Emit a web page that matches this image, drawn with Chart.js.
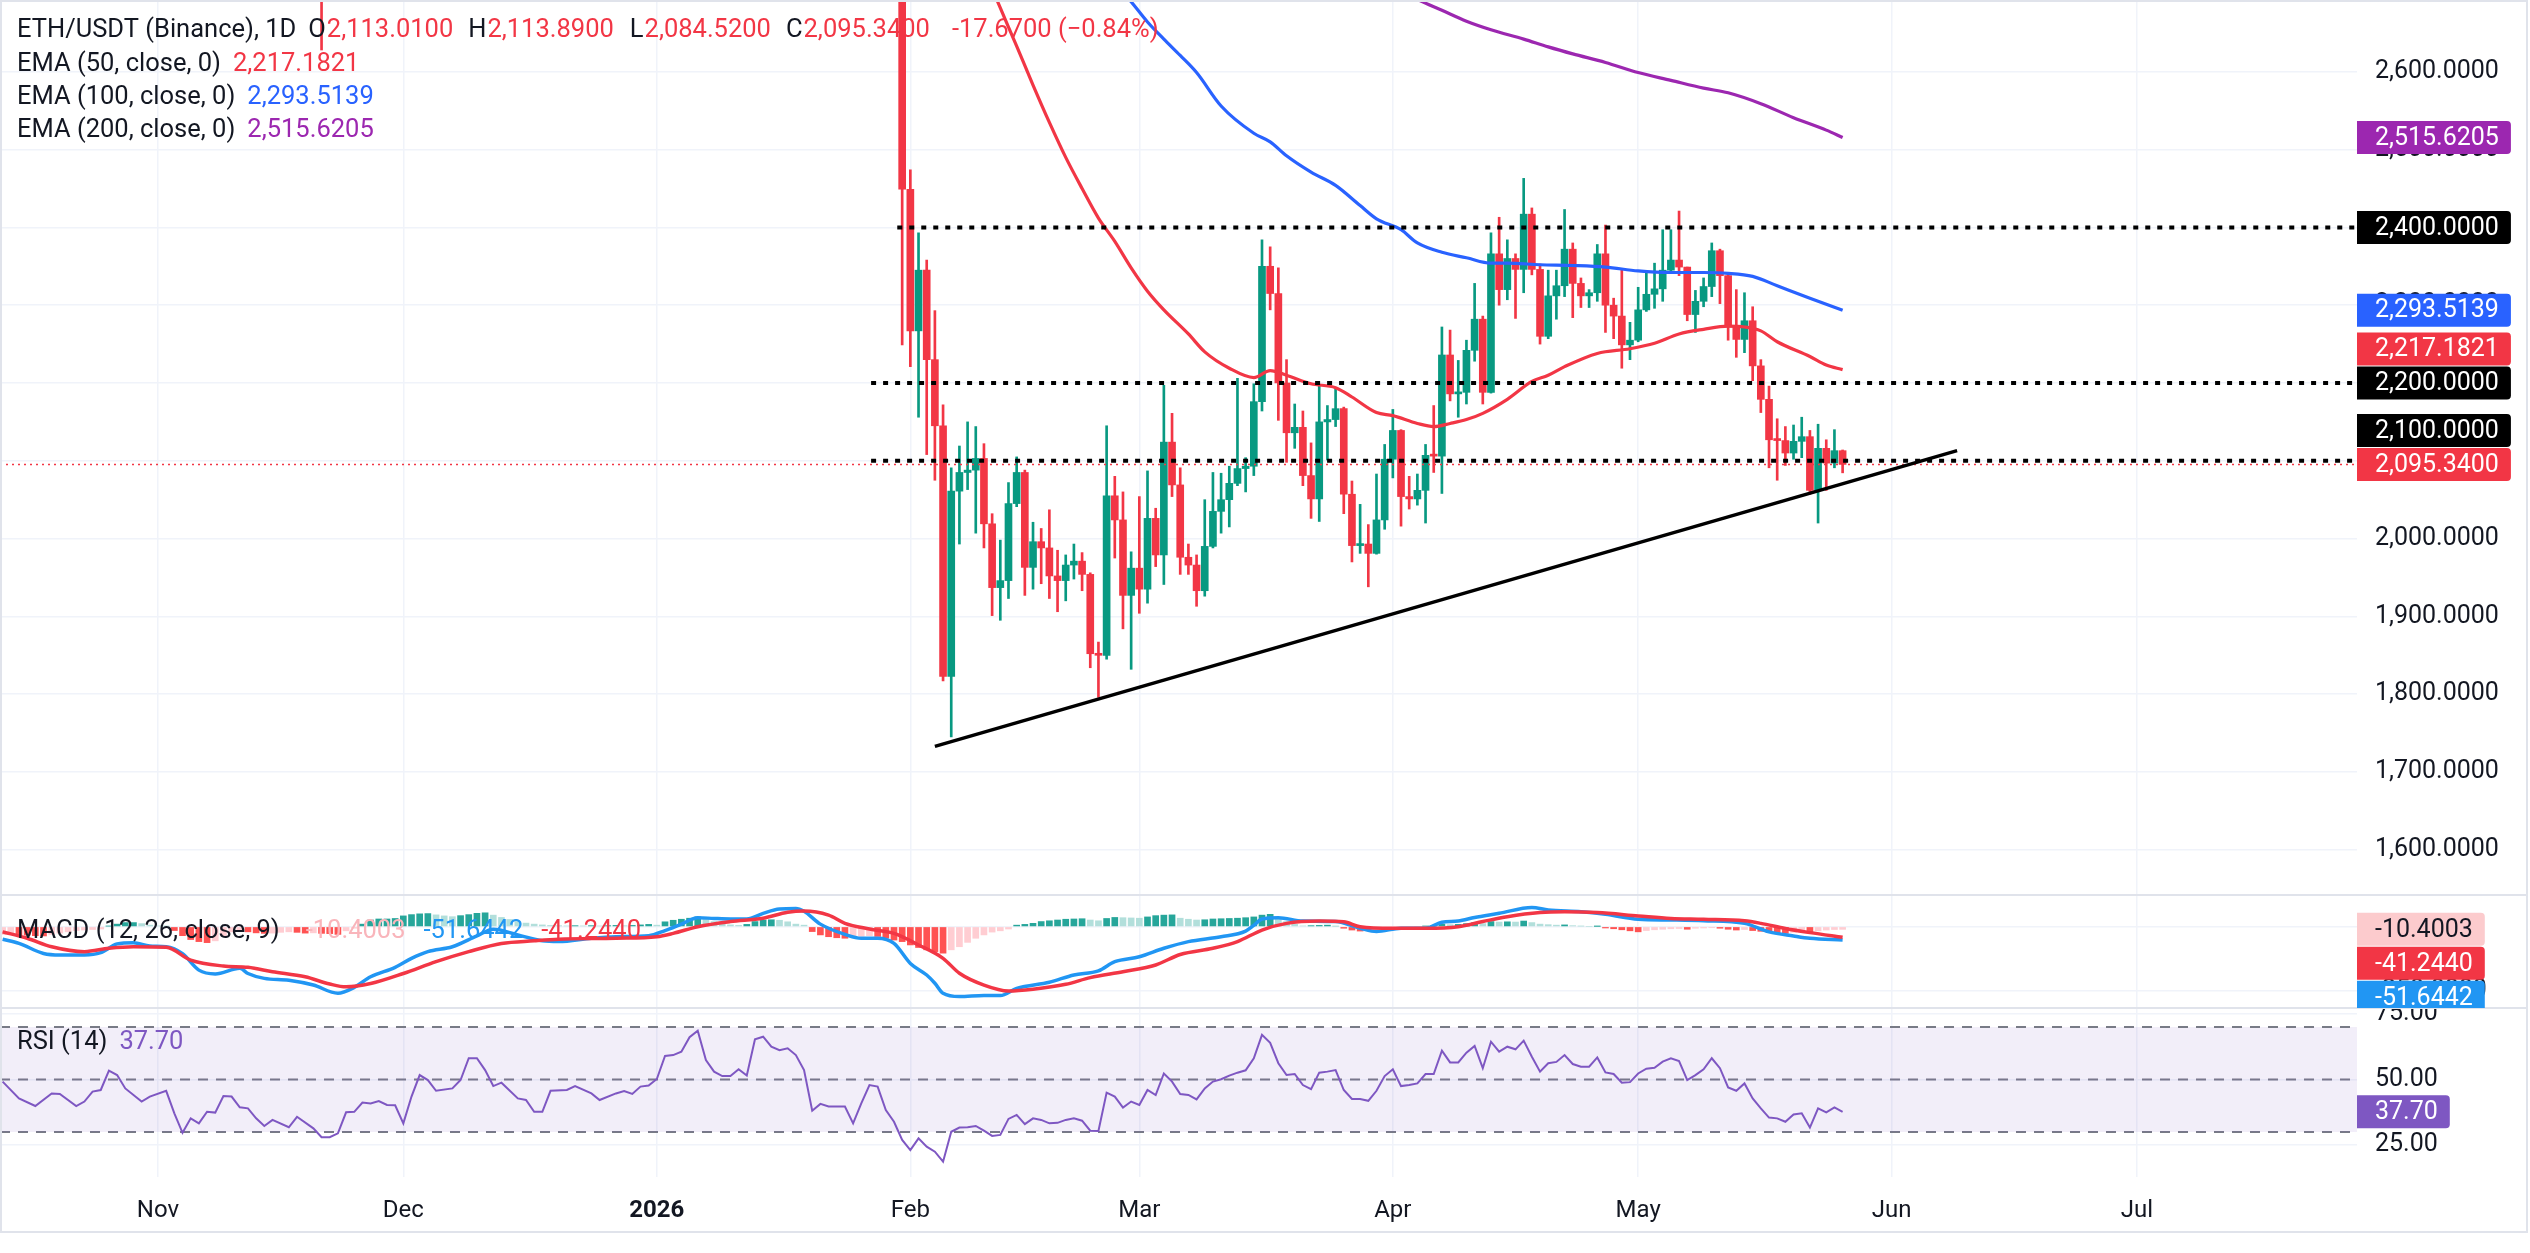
<!DOCTYPE html>
<html>
<head>
<meta charset="utf-8">
<title>ETH/USDT 1D</title>
<script src="https://cdn.jsdelivr.net/npm/chart.js@4.4.1/dist/chart.umd.min.js"></script>
<style>
  html, body { margin: 0; padding: 0; background: #fff; }
  #wrap { position: relative; width: 2530px; height: 1253px; }
</style>
</head>
<body>
<div id="wrap"><canvas id="chart" width="2530" height="1253"></canvas></div>
<script>
// x values are day numbers, day 0 = 1 Nov 2025
var monthDays = [0, 30, 61, 92, 120, 151, 181, 212, 242];
var monthNames = ["Nov", "Dec", "2026", "Feb", "Mar", "Apr", "May", "Jun", "Jul"];
var priceTicks = [1600, 1700, 1800, 1900, 2000, 2100, 2200, 2300, 2400, 2500, 2600];
var macdTicks = [0, -250];
var rsiTicks = [25, 50, 75];
var xMin = -19.32, xMax = 268.9;

// daily candles: one Nov wick that pokes into view, then 31 Jan .. 26 May
var candleDays = [20];
for (var d = 91; d <= 206; d++) candleDays.push(d);
var opens = [2830,
  2712, 2449, 2267, 2345, 2230, 2145, 1823, 2061, 2085, 2088,
  2103, 2019, 1937, 1946, 2045, 2085, 1963, 1996, 1988, 1952,
  1946, 1966, 1971, 1954, 1852, 1850, 2055, 2024, 1927, 1962,
  1935, 2026, 1979, 2124, 2069, 1976, 1966, 1933, 1990, 2035,
  2050, 2071, 2090, 2093, 2176, 2350, 2315, 2200, 2136, 2143,
  2081, 2051, 2150, 2153, 2167, 2057, 1991, 1993, 1981, 2024,
  2102, 2139, 2054, 2051, 2062, 2107, 2106, 2236, 2186, 2188,
  2242, 2282, 2188, 2366, 2320, 2360, 2346, 2417, 2346, 2260,
  2312, 2325, 2372, 2328, 2312, 2316, 2366, 2300, 2286, 2249,
  2255, 2294, 2314, 2321, 2345, 2358, 2349, 2288, 2305, 2324,
  2370, 2338, 2272, 2256, 2280, 2222, 2179, 2127, 2126, 2110,
  2125, 2131, 2062, 2116, 2097, 2113.01];
var highs = [2870,
  2725, 2474, 2393, 2358, 2293, 2172, 2091, 2119, 2150, 2144,
  2122, 2032, 1998, 2072, 2105, 2088, 2021, 2013, 2037, 1985,
  1979, 1993, 1982, 1956, 1867, 2145, 2080, 2060, 1983, 2054,
  2087, 2039, 2197, 2161, 2091, 1993, 1979, 2050, 2085, 2084,
  2093, 2206, 2104, 2199, 2384, 2375, 2348, 2230, 2173, 2164,
  2123, 2196, 2171, 2194, 2169, 2074, 2044, 2018, 2083, 2121,
  2166, 2140, 2080, 2083, 2121, 2171, 2272, 2268, 2229, 2255,
  2328, 2286, 2393, 2413, 2384, 2366, 2463, 2425, 2353, 2345,
  2345, 2423, 2380, 2335, 2320, 2378, 2403, 2309, 2345, 2278,
  2323, 2342, 2354, 2397, 2397, 2421, 2349, 2319, 2335, 2380,
  2372, 2341, 2320, 2316, 2298, 2230, 2196, 2154, 2144, 2146,
  2156, 2139, 2147, 2127, 2140, 2113.89];
var lows = [2628,
  2249, 2221, 2156, 2108, 2075, 1817, 1745, 1993, 2063, 2007,
  1988, 1901, 1895, 1923, 2041, 1927, 1935, 1942, 1923, 1906,
  1920, 1948, 1933, 1834, 1796, 1845, 1975, 1884, 1832, 1904,
  1917, 1964, 1941, 2054, 1954, 1954, 1913, 1926, 1988, 2007,
  2015, 2068, 2060, 2081, 2164, 2294, 2152, 2098, 2116, 2068,
  2026, 2022, 2101, 2144, 2032, 1970, 1981, 1938, 1980, 2012,
  2078, 2016, 2038, 2043, 2020, 2085, 2058, 2177, 2156, 2173,
  2228, 2173, 2187, 2300, 2307, 2283, 2316, 2339, 2250, 2257,
  2282, 2311, 2284, 2297, 2297, 2305, 2265, 2257, 2219, 2230,
  2253, 2292, 2296, 2305, 2342, 2338, 2280, 2265, 2298, 2311,
  2302, 2255, 2233, 2239, 2203, 2162, 2091, 2075, 2094, 2102,
  2104, 2057, 2020, 2062, 2091, 2084.52];
var closes = [2760,
  2449, 2267, 2345, 2230, 2145, 1823, 2061, 2085, 2088, 2103,
  2019, 1937, 1946, 2045, 2085, 1963, 1996, 1988, 1952, 1946,
  1966, 1971, 1954, 1852, 1850, 2055, 2024, 1927, 1962, 1935,
  2026, 1979, 2124, 2069, 1976, 1966, 1933, 1990, 2035, 2050,
  2071, 2090, 2093, 2176, 2350, 2315, 2200, 2136, 2143, 2081,
  2051, 2150, 2153, 2167, 2057, 1991, 1993, 1981, 2024, 2102,
  2139, 2054, 2051, 2062, 2107, 2106, 2236, 2186, 2188, 2242,
  2282, 2188, 2366, 2320, 2360, 2346, 2417, 2346, 2260, 2312,
  2325, 2372, 2328, 2312, 2316, 2366, 2300, 2286, 2249, 2255,
  2294, 2314, 2321, 2345, 2358, 2349, 2288, 2305, 2324, 2370,
  2338, 2272, 2256, 2280, 2222, 2179, 2127, 2126, 2110, 2125,
  2131, 2062, 2116, 2097, 2113.01, 2095.34];

// moving averages (first point of each sits just above the visible range)
var ema50Days = [101, 103, 105, 107, 109, 111, 113, 115, 117, 119, 121, 123, 126, 128, 131, 134, 136, 138, 141, 144, 146, 149, 151, 154, 156, 158, 160, 162, 165, 168, 170, 172, 176, 180, 183, 186, 189, 192, 194, 196, 198, 202, 204, 206];
var ema50Values = [2732, 2682, 2633, 2583, 2535, 2490, 2450, 2412, 2382, 2348, 2318, 2294, 2263, 2240, 2219, 2207, 2216, 2210, 2199, 2194, 2182, 2162, 2158, 2148, 2144, 2148, 2153, 2161, 2179, 2202, 2210, 2221, 2238, 2244, 2251, 2263, 2269, 2273, 2272, 2267, 2253, 2234, 2223, 2217.1821];
var ema100Days = [117, 119, 121, 123, 125, 127, 130, 134, 136, 138, 141, 144, 147, 149, 152, 154, 157, 160, 163, 165, 169, 173, 177, 181, 185, 189, 192, 195, 198, 202, 206];
var ema100Values = [2714, 2690, 2664, 2642, 2621, 2599, 2556, 2521, 2510, 2492, 2471, 2454, 2428, 2411, 2397, 2380, 2368, 2361, 2354, 2354, 2352, 2351, 2349, 2344, 2342, 2342, 2341, 2337, 2325, 2309, 2293.5139];
var ema200Days = [152, 154, 157, 160, 163, 167, 170, 173, 177, 181, 185, 189, 192, 196, 200, 204, 206];
var ema200Values = [2704, 2693, 2679, 2665, 2654, 2642, 2632, 2623, 2612, 2599, 2589, 2579, 2573, 2559, 2541, 2525, 2515.6205];

// drawings
var levelPrices = [2400, 2200, 2100];
var levelStarts = [90.4, 87.2, 87.2];
var lastPrice = 2095.34;
var trendDays = [95, 220];
var trendPrices = [1733, 2113];

// MACD (12, 26, 9)
var histStart = -19;
var histValues = [
  -30, -30, -31, -33, -35, -36, -30, -25, -20, -15,
  -13, -11, -9, 2, 10, 16, 16, 12, 6, 3,
  2, -15, -35, -50, -58, -62, -55, -35, -20, -12,
  -20, -24, -26, -25, -22, -20, -22, -25, -24, -26,
  -27, -30, -16, -6, 10, 26, 30, 30, 32, 42,
  47, 50, 51, 46, 42, 39, 43, 47, 52, 54,
  45, 36, 28, 20, 14, 10, 7, 5, 4, 3,
  4, 3, 4, 3, 4, 5, 4, 5, 7, 9,
  6, 19, 25, 29, 33, 38, 32, 20, 10, 7,
  5, 9, 20, 26, 27, 25, 19, 10, 6, -19,
  -32, -39, -43, -45, -40, -37, -35, -38, -45, -52,
  -58, -71, -81, -90, -97, -103, -90, -78, -61, -45,
  -32, -21, -16, -9, 6, 9, 13, 20, 23, 26,
  29, 30, 31, 26, 23, 32, 36, 35, 34, 33,
  38, 43, 45, 46, 33, 29, 26, 27, 30, 31,
  32, 33, 35, 38, 45, 48, 32, 20, 9, 3,
  4, 5, 6, 1, -6, -13, -17, -15, -11, -7,
  -5, -3, -2, -1, 2, 4, 10, 8, 9, 12,
  16, 12, 20, 18, 19, 18, 22, 16, 10, 8,
  6, 7, 4, 2, 0, 1, -5, -8, -12, -16,
  -20, -15, -12, -10, -8, -7, -10, -6, -5, -4,
  -6, -10, -13, -11, -15, -18, -22, -24, -26, -22,
  -18, -20, -16, -13, -11, -10.4003];
var macdDays = [-19, -17, -14, -12, -9, -7, -5, -3, -1, 1, 3, 5, 7, 10, 11, 13, 16, 19, 22, 24, 26, 29, 31, 33, 36, 39, 41, 44, 47, 49, 53, 56, 60, 62, 64, 66, 68, 70, 72, 74, 76, 78, 79, 81, 84, 86, 88, 90, 92, 94, 95, 96, 98, 101, 103, 105, 109, 112, 115, 117, 120, 123, 126, 130, 133, 134, 135, 137, 140, 144, 147, 149, 152, 155, 157, 159, 161, 164, 168, 170, 174, 177, 181, 185, 189, 194, 197, 200, 202, 206];
var macdValues = [-49, -65, -104, -110, -110, -101, -67, -62, -75, -78, -105, -169, -184, -162, -182, -201, -208, -227, -259, -236, -195, -158, -123, -97, -78, -36, -10, -32, -55, -58, -45, -39, -35, -15, 10, 35, 32, 30, 30, 52, 69, 71, 60, 10, -30, -45, -45, -65, -143, -188, -220, -259, -272, -268, -268, -240, -216, -188, -172, -136, -117, -84, -58, -39, -17, 5, 30, 35, 22, 20, -6, -19, -6, -6, 17, 22, 36, 52, 75, 65, 58, 48, 29, 26, 23, 13, -20, -36, -45, -51.6442];
var signalDays = [-19, -16, -13, -9, -6, -3, 1, 4, 8, 11, 14, 18, 21, 23, 26, 30, 34, 38, 42, 46, 49, 56, 61, 63, 66, 70, 74, 77, 79, 82, 84, 87, 90, 93, 96, 98, 101, 104, 107, 111, 114, 118, 122, 125, 129, 132, 135, 138, 142, 145, 147, 151, 155, 159, 162, 165, 169, 172, 176, 181, 185, 189, 194, 196, 199, 202, 206];
var signalValues = [-20, -45, -78, -97, -84, -78, -80, -130, -153, -158, -175, -195, -223, -234, -221, -182, -136, -97, -65, -55, -49, -45, -39, -26, 0, 20, 33, 56, 61, 45, 13, -9, -26, -71, -123, -181, -227, -250, -243, -224, -198, -175, -149, -108, -84, -58, -13, 13, 22, 19, 0, -6, -6, 0, 20, 39, 55, 58, 55, 42, 32, 29, 23, 13, -7, -23, -41.244];

// RSI (14)
var rsiDays = [-19, -17, -15, -13, -12, -10, -9, -8, -7, -6, -5, -4, -2, -1, 1, 2, 3, 4, 5, 6, 7, 8, 9, 10, 11, 12, 13, 14, 16, 17, 19, 20, 21, 22, 23, 24, 25, 26, 27, 28, 29, 30, 31, 32, 33, 34, 36, 37, 38, 39, 40, 41, 42, 44, 45, 46, 47, 48, 50, 51, 53, 54, 56, 57, 58, 59, 60, 61, 62, 63, 64, 65, 66, 67, 68, 69, 70, 71, 72, 73, 74, 75, 76, 77, 78, 79, 80, 81, 82, 84, 85, 86, 87, 88, 89, 90,
  91, 92, 93, 94, 95, 96, 97, 98, 99, 100, 101, 102, 103, 104, 105, 106, 107, 108, 109, 110, 111, 112, 113, 114, 115, 116, 117, 118, 119, 120, 121, 122, 123, 124, 125, 126, 127, 128, 129, 130, 131, 132, 133, 134, 135, 136, 137, 138, 139, 140, 141, 142, 143, 144, 145, 146, 147, 148, 149, 150, 151, 152, 153, 154, 155, 156, 157, 158, 159, 160, 161, 162, 163, 164, 165, 166, 167, 168, 169, 170, 171, 172, 173, 174, 175, 176, 177, 178, 179, 180, 181, 182, 183, 184, 185, 186, 187, 188, 189, 190, 191, 192, 193, 194, 195, 196, 197, 198, 199, 200, 201, 202, 203, 204, 205, 206];
var rsiValues = [49.2, 42.8, 39.9, 44.7, 44.5, 39.9, 41.6, 45.4, 46, 53.4, 51.7, 46.6, 41.6, 43.5, 45.7, 37.1, 29.7, 35.2, 33.3, 37.7, 37.4, 43.7, 43.5, 39.4, 39, 35.2, 32.3, 34.6, 31.8, 35.8, 31.4, 28, 28, 29.5, 37.5, 37.7, 41.2, 40.9, 41.8, 40.3, 40.2, 33.3, 43.5, 51.7, 49.8, 45.7, 46.6, 49.8, 58.1, 58.1, 53.6, 47.5, 48.8, 42.8, 42.2, 37.7, 37.7, 45.7, 46, 47.5, 44.7, 42.2, 44.7, 45.6, 44.5, 47.3, 47.7, 50.2, 59, 59.3, 60.6, 66.1, 68.6, 57.4, 53, 51.3, 51.3, 53.9, 51.5, 65.3, 66.3, 62.5, 61.2, 61.9, 59.3, 53.6, 38.1, 40.7, 39.7, 39.7, 33.3, 40.9, 47.9, 47.3, 38.4, 33.9,
  27, 23.1, 27.6, 24.4, 22.5, 18.7, 30.1, 31.7, 31.8, 32.3, 30.5, 28.5, 28.9, 35, 36.5, 33, 35.2, 34.6, 33.3, 33.5, 34.6, 35.2, 34.3, 30.5, 30.4, 45, 43.5, 39.3, 41.6, 40.3, 46, 44.1, 52.3, 49.2, 44.5, 44.1, 42.4, 46.6, 49.2, 50.1, 51.5, 52.6, 53.5, 58.1, 67, 64, 56.2, 51.7, 52.1, 47.9, 46.3, 52.6, 53, 53.6, 46, 42.6, 42.6, 41.9, 45.7, 51.3, 53.9, 47.5, 47.9, 48.5, 52.1, 52.1, 61, 56.5, 56.5, 60.2, 62.8, 54.3, 64.4, 60.6, 62.5, 61.5, 64.8, 58.7, 53, 56.2, 56.7, 59.3, 55.9, 54.9, 54.9, 58.4, 52.7, 52.1, 48.8, 49, 52.3, 54.1, 54.5, 56.8, 58.1, 57, 49.8, 51.7, 53.9, 58.1, 54.3, 47, 45.7, 48.5, 42.8, 39, 35.5, 35.2, 33.9, 36.7, 37.1, 31.7, 39, 37.5, 39.4, 37.7];
var rsiBands = [70, 50, 30];

var GREEN = '#089981', RED = '#f23645', BLUE = '#2962ff', PURPLE = '#9c27b0';
var MACD_BLUE = '#2196f3', RSI_PURPLE = '#7e57c2';
var GRID = '#f0f3fa', TEXT = '#131722';
var AXIS_FONT = '25px Roboto, "Noto Sans", sans-serif';
var LEGEND_FONT = '25.5px Roboto, "Noto Sans", sans-serif';

Chart.defaults.font.family = 'Roboto, "Noto Sans", sans-serif';
Chart.defaults.color = TEXT;

function pts(days, vals) {
  return days.map(function (d, i) { return { x: d, y: vals[i] }; });
}
function fmt4(v) {
  return v.toLocaleString('en-US', { minimumFractionDigits: 4, maximumFractionDigits: 4 });
}
function last(a) { return a[a.length - 1]; }

var candleColors = candleDays.map(function (d, i) { return closes[i] >= opens[i] ? GREEN : RED; });
var histDays = histValues.map(function (v, i) { return histStart + i; });
var histColors = histValues.map(function (v, i) {
  var prev = i > 0 ? histValues[i - 1] : v;
  if (v >= 0) return v >= prev ? '#26a69a' : '#b2dfdb';
  return v < prev ? '#ff5252' : '#ffcdd2';
});

var datasets = [
  { type: 'line', yAxisID: 'y', order: 0, data: pts(trendDays, trendPrices),
    borderColor: '#000', borderWidth: 3.5, pointRadius: 0 },
  { type: 'line', yAxisID: 'y', order: 0, data: [{ x: xMin, y: lastPrice }, { x: xMax, y: lastPrice }],
    borderColor: RED, borderWidth: 1.5, borderDash: [2, 4], pointRadius: 0 }
];
levelPrices.forEach(function (p, i) {
  datasets.push({ type: 'line', yAxisID: 'y', order: 0, data: [{ x: levelStarts[i], y: p }, { x: xMax, y: p }],
    borderColor: '#000', borderWidth: 4, borderDash: [5, 7], pointRadius: 0 });
});
[[ema50Days, ema50Values, RED], [ema100Days, ema100Values, BLUE], [ema200Days, ema200Values, PURPLE]].forEach(function (e) {
  datasets.push({ type: 'line', yAxisID: 'y', order: 1, data: pts(e[0], e[1]), borderColor: e[2],
    borderWidth: 3.2, pointRadius: 0, cubicInterpolationMode: 'monotone' });
});
datasets.push(
  { type: 'bar', yAxisID: 'y', order: 2, grouped: false, barThickness: 7, maxBarThickness: 7, minBarLength: 2,
    data: candleDays.map(function (d, i) { return { x: d, y: [opens[i], closes[i]] }; }),
    backgroundColor: candleColors, borderWidth: 0 },
  { type: 'bar', yAxisID: 'y', order: 3, grouped: false, barThickness: 2, maxBarThickness: 2,
    data: candleDays.map(function (d, i) { return { x: d, y: [lows[i], highs[i]] }; }),
    backgroundColor: candleColors, borderWidth: 0 },
  { type: 'bar', yAxisID: 'macd', order: 3, grouped: false, barThickness: 6, maxBarThickness: 6,
    data: pts(histDays, histValues), backgroundColor: histColors, borderWidth: 0 },
  { type: 'line', yAxisID: 'macd', order: 1, data: pts(signalDays, signalValues), borderColor: RED,
    borderWidth: 3.5, pointRadius: 0, cubicInterpolationMode: 'monotone' },
  { type: 'line', yAxisID: 'macd', order: 1, data: pts(macdDays, macdValues), borderColor: MACD_BLUE,
    borderWidth: 3.5, pointRadius: 0, cubicInterpolationMode: 'monotone' },
  { type: 'line', yAxisID: 'rsi', order: 1, data: pts(rsiDays, rsiValues), borderColor: RSI_PURPLE,
    borderWidth: 2, pointRadius: 0 }
);
rsiBands.forEach(function (b, i) {
  datasets.push({ type: 'line', yAxisID: 'rsi', order: 4, data: [{ x: xMin, y: b }, { x: xMax, y: b }],
    borderColor: '#787b86', borderWidth: 2, borderDash: [10, 8], pointRadius: 0,
    fill: i === 0 ? { value: rsiBands[2] } : false, backgroundColor: 'rgba(126,87,194,0.1)' });
});

function fixedTicks(list) {
  return function (scale) { scale.ticks = list.map(function (v) { return { value: v }; }); };
}
function noPad(s) {
  s.paddingTop = 0; s.paddingBottom = 0; s.paddingLeft = 0; s.paddingRight = 0;
}
function yScale(min, max, weight, ticks, fmt) {
  return {
    type: 'linear', position: 'right', stack: 'panes', stackWeight: weight, min: min, max: max,
    offset: false, afterBuildTicks: fixedTicks(ticks),
    afterFit: function (s) { s.width = 173; noPad(s); },
    grid: { color: GRID, lineWidth: 1.5, drawTicks: false }, border: { display: false },
    ticks: { autoSkip: false, padding: 18, color: TEXT, font: { size: 25 }, callback: fmt }
  };
}

// tags on the right axis, pushed apart where they would overlap
function drawTag(c, x, y, text, bg, fg) {
  c.font = AXIS_FONT;
  var w = c.measureText(text).width + 30, h = 33;
  c.fillStyle = bg;
  c.beginPath();
  c.roundRect(x, y - h / 2, w, h, [0, 4, 4, 0]);
  c.fill();
  c.fillStyle = fg;
  c.textAlign = 'left';
  c.textBaseline = 'middle';
  c.fillText(text, x + 18, y + 1);
}
function spreadTags(items, scale, gap, upward) {
  items.forEach(function (t) { t.py = scale.getPixelForValue(t.v); });
  items.sort(function (a, b) { return upward ? b.py - a.py : a.py - b.py; });
  for (var i = 1; i < items.length; i++) {
    var p = items[i - 1].py;
    if (upward && p - items[i].py < gap) items[i].py = p - gap;
    if (!upward && items[i].py - p < gap) items[i].py = p + gap;
  }
  return items;
}
function legendRow(c, x, y, parts) {
  c.font = LEGEND_FONT;
  c.textAlign = 'left';
  c.textBaseline = 'middle';
  parts.forEach(function (p) {
    c.fillStyle = p[1];
    c.fillText(p[0], x, y);
    x += c.measureText(p[0]).width + p[2];
  });
}

var decor = {
  id: 'decor',
  beforeDraw: function (chart) {
    var c = chart.ctx;
    c.save();
    c.fillStyle = '#fff';
    c.fillRect(0, 0, chart.width, chart.height);
    c.restore();
  },
  afterDraw: function (chart) {
    var c = chart.ctx, s = chart.scales, right = chart.chartArea.right;
    c.save();
    c.strokeStyle = '#e0e3eb';
    c.lineWidth = 2;
    [s.macd.top, s.rsi.top].forEach(function (y) {
      c.beginPath(); c.moveTo(0, y); c.lineTo(2527, y); c.stroke();
    });
    c.strokeRect(1, 1, 2526, 1231);

    var n = closes.length - 1;
    var chg = closes[n] - closes[n - 1];
    legendRow(c, 17, 31, [
      ['ETH/USDT (Binance), 1D', TEXT, 12],
      ['O', TEXT, 1], [fmt4(opens[n]), RED, 15],
      ['H', TEXT, 1], [fmt4(highs[n]), RED, 16],
      ['L', TEXT, 1], [fmt4(lows[n]), RED, 15],
      ['C', TEXT, 1], [fmt4(closes[n]), RED, 22],
      [fmt4(chg) + ' (\u2212' + Math.abs(chg / closes[n - 1] * 100).toFixed(2) + '%)', RED, 0]
    ]);
    legendRow(c, 17, 65, [['EMA (50, close, 0)', TEXT, 12], [fmt4(last(ema50Values)), RED, 0]]);
    legendRow(c, 17, 98, [['EMA (100, close, 0)', TEXT, 12], [fmt4(last(ema100Values)), BLUE, 0]]);
    legendRow(c, 17, 131, [['EMA (200, close, 0)', TEXT, 12], [fmt4(last(ema200Values)), PURPLE, 0]]);
    legendRow(c, 17, 932, [['MACD (12, 26, close, 9)', TEXT, 26], [last(histValues).toFixed(4), '#f9b5bb', 18],
      [last(macdValues).toFixed(4), MACD_BLUE, 18], [last(signalValues).toFixed(4), RED, 0]]);
    legendRow(c, 17, 1043, [['RSI (14)', TEXT, 12], [last(rsiValues).toFixed(2), RSI_PURPLE, 0]]);

    var priceTags = spreadTags([
      { v: last(ema200Values), bg: PURPLE, fg: '#fff' },
      { v: levelPrices[0], bg: '#000', fg: '#fff' },
      { v: last(ema100Values), bg: BLUE, fg: '#fff' },
      { v: last(ema50Values), bg: RED, fg: '#fff' },
      { v: levelPrices[1], bg: '#000', fg: '#fff' },
      { v: levelPrices[2], bg: '#000', fg: '#fff' },
      { v: lastPrice, bg: RED, fg: '#fff' }
    ], s.y, 34, true);
    priceTags.forEach(function (t) { drawTag(c, right, t.py, fmt4(t.v), t.bg, t.fg); });

    c.save();
    c.beginPath();
    c.rect(right, s.macd.top + 1, chart.width - right, s.macd.bottom - s.macd.top - 1);
    c.clip();
    var macdTags = spreadTags([
      { v: last(histValues), bg: '#fccbcd', fg: TEXT },
      { v: last(signalValues), bg: RED, fg: '#fff' },
      { v: last(macdValues), bg: MACD_BLUE, fg: '#fff' }
    ], s.macd, 34, false);
    macdTags.forEach(function (t) { drawTag(c, right, t.py, t.v.toFixed(4), t.bg, t.fg); });
    c.restore();

    var r = last(rsiValues);
    drawTag(c, right, s.rsi.getPixelForValue(r), r.toFixed(2), RSI_PURPLE, '#fff');
    c.restore();
  }
};

new Chart(document.getElementById('chart'), {
  type: 'bar',
  data: { datasets: datasets },
  options: {
    responsive: false,
    devicePixelRatio: 1,
    animation: false,
    events: [],
    layout: { padding: { top: 2, left: 0, right: 0, bottom: 0 } },
    plugins: { legend: { display: false }, tooltip: { enabled: false } },
    scales: {
      x: {
        type: 'linear', position: 'bottom', min: xMin, max: xMax, offset: false,
        afterBuildTicks: fixedTicks(monthDays),
        afterFit: function (s) { s.height = 76; noPad(s); },
        grid: { color: GRID, lineWidth: 1.5, drawTicks: false, offset: false },
        border: { display: false },
        ticks: {
          autoSkip: false, maxRotation: 0, padding: 20, color: TEXT,
          font: function (ctx) { return { size: 24, weight: ctx.index === 2 ? 'bold' : 'normal' }; },
          callback: function (v, i) { return monthNames[i]; }
        }
      },
      y: yScale(1541.9, 2689.7, 893, priceTicks, fmt4),
      macd: yScale(-316.3, 123.3, 113, macdTicks, fmt4),
      rsi: yScale(12.86, 77.24, 169, rsiTicks, function (v) { return v.toFixed(2); })
    }
  },
  plugins: [decor]
});
</script>
</body>
</html>
